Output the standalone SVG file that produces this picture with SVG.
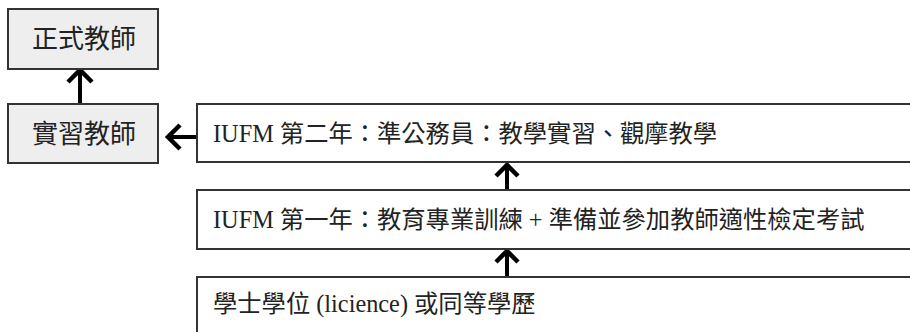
<svg xmlns="http://www.w3.org/2000/svg" width="910" height="332" viewBox="0 0 910 332">
<style>
.gbox{fill:#eeeeee;stroke:#333333;stroke-width:2}
.wbox{fill:#ffffff;stroke:#333333;stroke-width:2}
.lt{font-family:"Noto Sans CJK TC","Noto Sans CJK SC",sans-serif;font-size:26px;fill:#222222}
.bt{font-family:"Liberation Serif","Noto Sans CJK TC",serif;font-size:24.3px;fill:#222222}
.ln{stroke:#000000;stroke-width:4;fill:none}
.hd{stroke:#000000;stroke-width:4.5;fill:none;stroke-linecap:butt;stroke-linejoin:miter}
</style>
<rect width="910" height="332" fill="#ffffff"/>
<g id="connectors">
<line class="ln" x1="80" y1="104" x2="80" y2="70"/>
<polyline class="hd" points="68,82 80,70 92,82"/>
<line class="ln" x1="199" y1="137" x2="168" y2="137"/>
<polyline class="hd" points="180,125 168,137 180,149"/>
<line class="ln" x1="507" y1="190" x2="507" y2="165"/>
<polyline class="hd" points="496,176 507,165 518,176"/>
<line class="ln" x1="507" y1="277" x2="507" y2="251"/>
<polyline class="hd" points="496,262 507,251 518,262"/>
</g>
<g id="node-formal">
<rect class="gbox" x="8" y="9" width="150" height="60"/>
<text class="lt" x="84" y="48" text-anchor="middle">正式教師</text>
</g>
<g id="node-intern">
<rect class="gbox" x="8" y="104" width="150" height="59"/>
<text class="lt" x="84" y="143" text-anchor="middle">實習教師</text>
</g>
<g id="node-year2">
<rect class="wbox" x="197" y="104" width="730" height="58"/>
<text class="bt" x="213" y="142">IUFM 第二年：準公務員：教學實習、觀摩教學</text>
</g>
<g id="node-year1">
<rect class="wbox" x="197" y="190" width="730" height="59"/>
<text class="bt" x="213" y="228">IUFM 第一年：教育專業訓練 + 準備並參加教師適性檢定考試</text>
</g>
<g id="node-degree">
<rect class="wbox" x="197" y="277" width="730" height="80"/>
<text class="bt" x="213" y="312">學士學位 (licience) 或同等學歷</text>
</g>
</svg>
